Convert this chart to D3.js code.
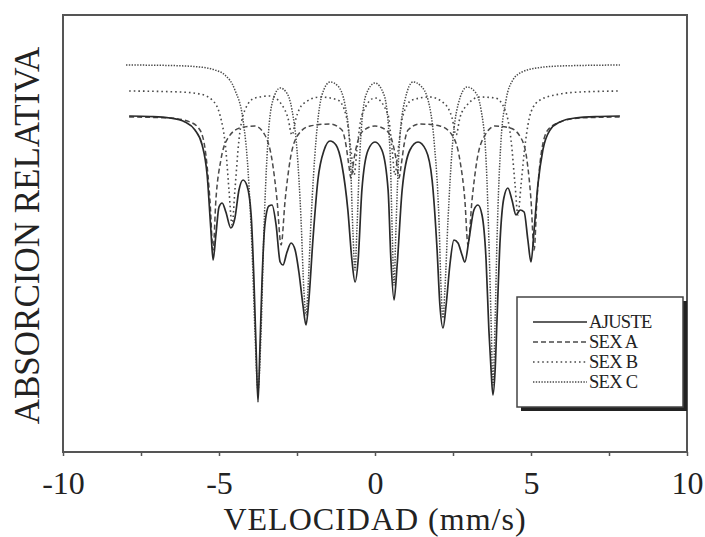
<!DOCTYPE html>
<html>
<head>
<meta charset="utf-8">
<script src="https://cdn.jsdelivr.net/npm/d3@7/dist/d3.min.js"></script>
<style>
  html, body { margin: 0; padding: 0; background: #fff; }
  svg { display: block; }
  text { font-family: "Liberation Serif", "Times New Roman", serif; fill: #222; }
</style>
</head>
<body>
<svg id="chart" width="705" height="537"></svg>
<script>
// Velocity axis ticks (mm/s)
const xTickLabels = [-10, -5, 0, 5, 10];
const xMinorTicks = [-10, -7.5, -5, -2.5, 0, 2.5, 5, 7.5, 10];

// Mössbauer spectrum: velocity (mm/s) and relative absorption (arbitrary units)
const ajusteV = [-7.88,-7.21,-6.57,-6.09,-5.77,-5.54,-5.38,-5.26,-5.19,-5.10,-5.00,-4.90,-4.78,-4.62,-4.49,-4.36,-4.23,-4.10,-3.97,-3.88,-3.81,-3.75,-3.69,-3.62,-3.53,-3.40,-3.30,-3.17,-3.04,-2.95,-2.82,-2.69,-2.56,-2.44,-2.31,-2.21,-2.12,-1.99,-1.83,-1.63,-1.44,-1.25,-1.06,-0.87,-0.74,-0.64,-0.54,-0.42,-0.22,0,0.22,0.42,0.51,0.61,0.71,0.87,1.12,1.38,1.63,1.83,1.99,2.08,2.18,2.28,2.40,2.53,2.66,2.79,2.88,3.01,3.17,3.30,3.43,3.56,3.65,3.72,3.78,3.85,3.91,4.01,4.13,4.26,4.39,4.52,4.65,4.78,4.90,5.00,5.10,5.22,5.38,5.61,5.93,6.41,7.21,7.85];
const ajusteY = [336,335.5,334,330,322,307,277,222,192,217,245,249,240,224,234,262,272,266,237,172,102,50,102,172,227,246,247,227,190,187,200,209,202,180,147,127,152,212,272,302,311,307,287,242,192,170,192,262,302,310,302,262,192,152,187,262,302,310,302,272,202,147,124,147,187,212,209,197,190,212,242,247,237,192,122,82,57,82,132,212,254,264,252,237,242,240,212,190,222,267,302,322,330,334,335.5,336];

const sexAV = [-7.88,-6.57,-5.93,-5.61,-5.42,-5.29,-5.19,-5.10,-4.94,-4.71,-4.33,-3.85,-3.53,-3.30,-3.14,-3.01,-2.88,-2.72,-2.47,-2.08,-1.44,-1.06,-0.93,-0.84,-0.77,-0.68,-0.54,-0.35,0,0.35,0.54,0.68,0.77,0.84,0.93,1.06,1.44,2.08,2.47,2.72,2.88,2.98,3.11,3.27,3.53,3.85,4.33,4.68,4.87,5.00,5.10,5.19,5.32,5.54,5.93,6.57,7.85];
const sexAY = [335,334,330,322,297,252,202,252,292,314,324,326,317,292,252,207,252,292,317,326,328,322,307,287,274,292,312,322,326,322,312,292,274,287,307,322,328,326,317,292,252,207,252,292,317,326,324,314,292,252,202,252,297,322,330,334,335];

const sexBV = [-7.88,-6.25,-5.61,-5.22,-4.97,-4.78,-4.68,-4.58,-4.49,-4.36,-4.17,-3.85,-3.37,-2.98,-2.79,-2.66,-2.53,-2.31,-1.76,-1.19,-0.93,-0.77,-0.67,-0.58,-0.42,0,0.42,0.55,0.64,0.74,0.90,1.19,1.76,2.24,2.47,2.60,2.72,2.95,3.37,3.85,4.17,4.36,4.49,4.58,4.68,4.81,5.00,5.29,5.93,6.57,7.85];
const sexBY = [361,360,358,352,337,302,262,227,262,312,342,354,356,347,334,317,334,348,355,352,337,302,277,302,337,354,337,302,277,302,337,352,355,348,334,317,334,347,355,354,342,312,267,237,267,307,340,352,358,360,361];

const sexCV = [-7.98,-6.57,-5.61,-5.13,-4.81,-4.49,-4.23,-4.07,-3.94,-3.85,-3.75,-3.65,-3.56,-3.43,-3.27,-3.04,-2.85,-2.66,-2.50,-2.37,-2.28,-2.21,-2.15,-2.05,-1.89,-1.70,-1.44,-1.19,-0.96,-0.80,-0.71,-0.64,-0.58,-0.48,-0.29,0,0.29,0.48,0.55,0.61,0.67,0.77,0.96,1.22,1.47,1.70,1.89,2.05,2.12,2.18,2.24,2.34,2.47,2.66,2.95,3.21,3.40,3.56,3.65,3.72,3.78,3.85,3.91,4.04,4.20,4.42,4.71,5.19,5.93,7.85];
const sexCY = [387,386.5,385,382,377,362,332,282,202,122,62,122,222,312,352,364,360,342,302,232,162,137,162,232,312,357,370,366,347,302,222,182,222,302,357,369,357,302,222,167,222,302,352,370,366,352,312,232,162,134,162,232,302,347,365,360,342,292,212,132,67,132,212,312,352,372,380,384,386,387];

const seriesNames = ["AJUSTE", "SEX A", "SEX B", "SEX C"];
const series = [
  { name: seriesNames[0], v: ajusteV, y: ajusteY, dash: null,      color: "#2a2a2a", width: 1.7 },
  { name: seriesNames[1], v: sexAV,   y: sexAY,   dash: "5,3",     color: "#4a4a4a", width: 1.5 },
  { name: seriesNames[2], v: sexBV,   y: sexBY,   dash: "1.6,3",   color: "#4a4a4a", width: 1.6 },
  { name: seriesNames[3], v: sexCV,   y: sexCY,   dash: "1.4,1.4", color: "#4a4a4a", width: 1.5 }
];

const svg = d3.select("#chart");
const frame = { left: 63, right: 687, top: 15, bottom: 452 };

const x = d3.scaleLinear().domain([-10, 10]).range([frame.left, frame.right]);
const y = d3.scaleLinear().domain([0, 437]).range([frame.bottom, frame.top]);

const line = d3.line()
  .x(d => x(d[0]))
  .y(d => y(d[1]))
  .curve(d3.curveMonotoneX);

// Spectrum curves, components first so the fit sits on top
const plot = svg.append("g");
series.slice().reverse().forEach(s => {
  plot.append("path")
    .datum(s.v.map((v, i) => [v, s.y[i]]))
    .attr("d", line)
    .attr("fill", "none")
    .attr("stroke", s.color)
    .attr("stroke-width", s.width)
    .attr("stroke-dasharray", s.dash)
    .attr("stroke-linejoin", "round");
});

// Plot frame
svg.append("rect")
  .attr("x", frame.left).attr("y", frame.top)
  .attr("width", frame.right - frame.left)
  .attr("height", frame.bottom - frame.top)
  .attr("fill", "none")
  .attr("stroke", "#555")
  .attr("stroke-width", 2);

// Bottom axis: outward ticks and labels
const xAxis = d3.axisBottom(x)
  .tickValues(xMinorTicks)
  .tickSize(4)
  .tickFormat(d => xTickLabels.includes(d) ? String(d) : "");
const ax = svg.append("g")
  .attr("transform", `translate(0,${frame.bottom})`)
  .call(xAxis);
ax.select(".domain").remove();
ax.selectAll(".tick line").attr("stroke", "#555").attr("stroke-width", 1.5);
ax.selectAll(".tick text")
  .attr("y", 19)
  .attr("dy", "0.71em")
  .style("font-family", "'Liberation Serif', 'Times New Roman', serif")
  .style("font-size", "32px")
  .attr("fill", "#222");

// Axis titles
svg.append("text")
  .attr("x", (frame.left + frame.right) / 2)
  .attr("y", 530)
  .attr("text-anchor", "middle")
  .style("font-size", "32px")
  .style("letter-spacing", "1px")
  .text("VELOCIDAD (mm/s)");

svg.append("text")
  .attr("transform", `translate(39,${(frame.top + frame.bottom) / 2 + 2}) rotate(-90)`)
  .attr("text-anchor", "middle")
  .style("font-size", "35px")
  .text("ABSORCION RELATIVA");

// Legend with drop shadow
const lg = { x: 517, y: 297, w: 166, h: 110 };
svg.append("rect")
  .attr("x", lg.x + 4).attr("y", lg.y + 4)
  .attr("width", lg.w).attr("height", lg.h)
  .attr("fill", "#222");
svg.append("rect")
  .attr("x", lg.x).attr("y", lg.y)
  .attr("width", lg.w).attr("height", lg.h)
  .attr("fill", "#fff")
  .attr("stroke", "#444")
  .attr("stroke-width", 1.5);

series.forEach((s, i) => {
  const cy = lg.y + 25 + i * 20;
  svg.append("line")
    .attr("x1", lg.x + 16).attr("x2", lg.x + 70)
    .attr("y1", cy).attr("y2", cy)
    .attr("stroke", s.color)
    .attr("stroke-width", s.width)
    .attr("stroke-dasharray", s.dash);
  svg.append("text")
    .attr("x", lg.x + 72)
    .attr("y", cy + 6)
    .style("font-size", "18.5px")
    .style("letter-spacing", "-0.7px")
    .text(s.name);
});
</script>
</body>
</html>
